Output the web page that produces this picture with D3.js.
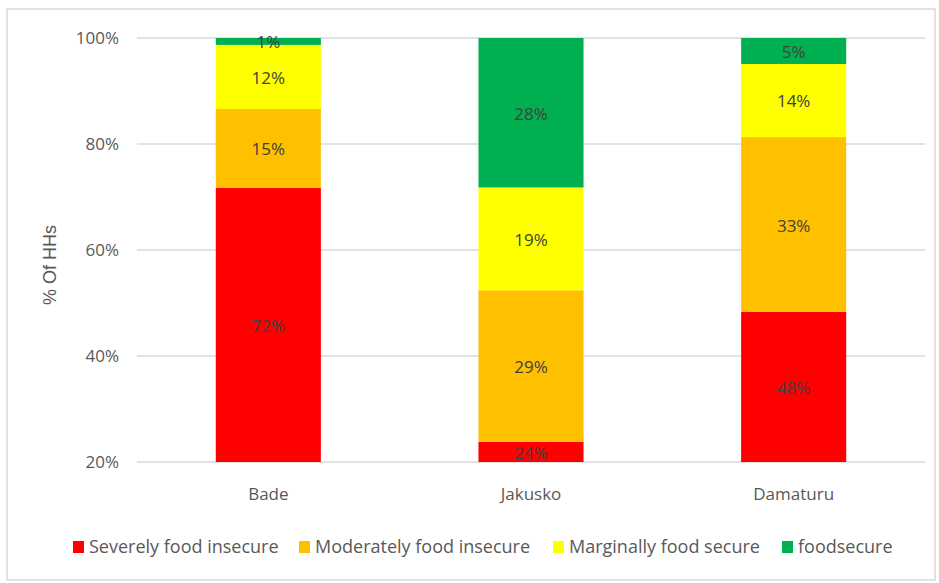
<!DOCTYPE html>
<html>
<head>
<meta charset="utf-8">
<script src="https://cdn.jsdelivr.net/npm/d3@7"></script>
<style>
  body { margin: 0; background: #fff; }
  text { font-family: "Open Sans", "Noto Sans", sans-serif; }
</style>
</head>
<body>
<svg id="chart"></svg>
<script>
// data (percent of households)
var sites = ["Bade", "Jakusko", "Damaturu"];
var seriesNames = ["Severely food insecure", "Moderately food insecure", "Marginally food secure", "foodsecure"];
var seriesColors = ["#ff0000", "#ffc000", "#ffff00", "#00b050"];
var severe = [71.7, 23.8, 48.3];
var moderate = [14.9, 28.6, 33.0];
var marginal = [12.1, 19.4, 13.8];
var secure = [1.3, 28.2, 4.9];
var yTicks = [20, 40, 60, 80, 100];

var svgW = 939, svgH = 583;
var plotL = 137, plotR = 925, plotT = 38, plotB = 462;

var svg = d3.select("#chart").attr("width", svgW).attr("height", svgH);

// outer frame
svg.append("rect")
  .attr("x", 7).attr("y", 9)
  .attr("width", 928).attr("height", 571)
  .attr("fill", "#fff")
  .attr("stroke", "#d9d9d9")
  .attr("stroke-width", 1.5);

var rows = sites.map(function(s, i){
  return {site: s, s0: severe[i], s1: moderate[i], s2: marginal[i], s3: secure[i]};
});
var keys = ["s0", "s1", "s2", "s3"];
var stacked = d3.stack().keys(keys)(rows);

var x = d3.scaleBand().domain(sites).range([plotL, plotR]).paddingInner(0.6).paddingOuter(0.3);
var y = d3.scaleLinear().domain([20, 100]).range([plotB, plotT]);

// grid
svg.append("g").selectAll("line")
  .data(yTicks)
  .enter().append("line")
  .attr("x1", plotL).attr("x2", plotR)
  .attr("y1", function(d){ return y(d); })
  .attr("y2", function(d){ return y(d); })
  .attr("stroke", "#d9d9d9")
  .attr("stroke-width", 1.5);

// y tick labels
var yAxis = d3.axisLeft(y).tickValues(yTicks).tickSize(0).tickPadding(0)
  .tickFormat(function(d){ return d + "%"; });
var ya = svg.append("g").attr("transform", "translate(119,0)").call(yAxis);
ya.select(".domain").remove();
ya.selectAll("text").attr("fill", "#595959").style("font-size", "17px")
  .style("font-family", "'Open Sans', sans-serif");

// x labels
var xAxis = d3.axisBottom(x).tickSize(0).tickPadding(0);
var xa = svg.append("g").attr("transform", "translate(0,488)").call(xAxis);
xa.select(".domain").remove();
xa.selectAll("text").attr("fill", "#595959").style("font-size", "17px")
  .style("font-family", "'Open Sans', sans-serif");

// axis title
svg.append("text")
  .attr("transform", "translate(56,265) rotate(-90)")
  .attr("text-anchor", "middle")
  .attr("fill", "#595959")
  .style("font-size", "18px")
  .style("font-family", "'Liberation Sans', Arial, sans-serif")
  .text("% Of HHs");

// bars, clipped at the 20% baseline
svg.append("clipPath").attr("id", "plotClip")
  .append("rect").attr("x", plotL).attr("y", plotT - 1).attr("width", plotR - plotL).attr("height", plotB - plotT + 1);

var layers = svg.append("g").attr("clip-path", "url(#plotClip)")
  .selectAll("g")
  .data(stacked)
  .enter().append("g")
  .attr("fill", function(d, i){ return seriesColors[i]; });

layers.selectAll("rect")
  .data(function(d){ return d; })
  .enter().append("rect")
  .attr("x", function(d){ return x(d.data.site); })
  .attr("width", x.bandwidth())
  .attr("y", function(d){ return y(d[1]); })
  .attr("height", function(d){ return y(d[0]) - y(d[1]); });

// value labels centred on the visible part of each segment
var labelG = svg.append("g");
stacked.forEach(function(layer){
  layer.forEach(function(d){
    var lo = Math.max(d[0], 20);
    var mid = (lo + d[1]) / 2;
    labelG.append("text")
      .attr("x", x(d.data.site) + x.bandwidth() / 2)
      .attr("y", y(mid) + 1)
      .attr("dy", "0.35em")
      .attr("text-anchor", "middle")
      .attr("fill", "#404040")
      .style("font-size", "17px")
      .text(Math.round(d[1] - d[0]) + "%");
  });
});

// legend
var legendX = [73, 299, 553, 782];
var legend = svg.append("g").selectAll("g")
  .data(seriesNames)
  .enter().append("g")
  .attr("transform", function(d, i){ return "translate(" + legendX[i] + ",547)"; });
legend.append("rect")
  .attr("x", 0).attr("y", -6).attr("width", 11).attr("height", 12)
  .attr("fill", function(d, i){ return seriesColors[i]; });
legend.append("text")
  .attr("x", 16).attr("y", 0).attr("dy", "0.35em")
  .attr("fill", "#595959")
  .style("font-size", "18px")
  .text(function(d){ return d; });
</script>
</body>
</html>
